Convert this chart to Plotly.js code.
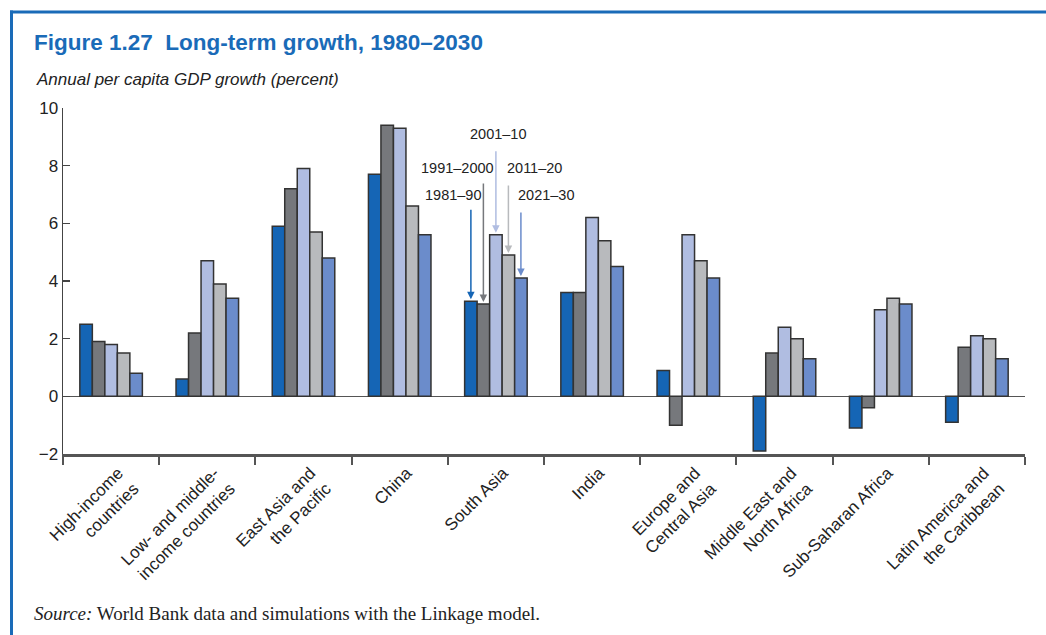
<!DOCTYPE html>
<html>
<head>
<meta charset="utf-8">
<script src="https://cdn.plot.ly/plotly-3.0.1.min.js"></script>
<style>
html,body{margin:0;padding:0;background:#fff;}
#chart{width:1046px;height:635px;}
</style>
</head>
<body>
<div id="chart"></div>
<script>
var categories = [
  "High-income<br>countries",
  "Low- and middle-<br>income countries",
  "East Asia and<br>the Pacific",
  "China",
  "South Asia",
  "India",
  "Europe and<br>Central Asia",
  "Middle East and<br>North Africa",
  "Sub-Saharan Africa",
  "Latin America and<br>the Caribbean"
];
var seriesNames = ["1981\u201390", "1991\u20132000", "2001\u201310", "2011\u201320", "2021\u201330"];
var v1981_90   = [2.5, 0.6, 5.9, 7.7, 3.3, 3.6, 0.9, -1.9, -1.1, -0.9];
var v1991_2000 = [1.9, 2.2, 7.2, 9.4, 3.2, 3.6, -1.0, 1.5, -0.4, 1.7];
var v2001_10   = [1.8, 4.7, 7.9, 9.3, 5.6, 6.2, 5.6, 2.4, 3.0, 2.1];
var v2011_20   = [1.5, 3.9, 5.7, 6.6, 4.9, 5.4, 4.7, 2.0, 3.4, 2.0];
var v2021_30   = [0.8, 3.4, 4.8, 5.6, 4.1, 4.5, 4.1, 1.3, 3.2, 1.3];
var seriesValues = [v1981_90, v1991_2000, v2001_10, v2011_20, v2021_30];
var colors = ["#1565b5", "#76787c", "#b0bde1", "#b8babd", "#6b8ccb"];

var traces = seriesNames.map(function(name, i){
  return {
    type: "bar",
    name: name,
    x: categories,
    y: seriesValues[i],
    marker: {color: colors[i], line: {color: "#333333", width: 1.5}},
    hoverinfo: "skip"
  };
});

// arrow callouts on the South Asia group
var calloutCat = 4;
var bargap = 0.35;
var barW = (1 - bargap) / 5;
var tailY = [-93, -122, -85, -71, -67];   // arrow lengths (px)
var labelPos = [[453,195],[457,168],[498,134],[534,168],[546,195]];
var annotations = [];
seriesNames.forEach(function(name, i){
  var xoff = calloutCat + (i - 2) * barW;
  annotations.push({
    xref: "x", yref: "y", x: xoff, y: seriesValues[i][calloutCat],
    text: "", showarrow: true, arrowhead: 2, arrowsize: 1, arrowwidth: 1.5,
    arrowcolor: colors[i], ax: 0, ay: tailY[i], standoff: 2
  });
  annotations.push({
    xref: "paper", yref: "paper",
    x: (labelPos[i][0] - 63) / 962, y: 1 - (labelPos[i][1] - 108) / 346,
    xanchor: "center", yanchor: "middle", showarrow: false,
    text: name, font: {family: "Liberation Sans, Arial", size: 14.5, color: "#222"}
  });
});
annotations.push({
  xref: "paper", yref: "paper", x: (34 - 63) / 962, y: 1 - (80 - 108) / 346,
  xanchor: "left", yanchor: "middle", showarrow: false,
  text: "<i>Annual per capita GDP growth (percent)</i>",
  font: {family: "Liberation Sans, Arial", size: 17, color: "#222"}
});
annotations.push({
  xref: "paper", yref: "paper", x: (32 - 63) / 962, y: 1 - (613 - 108) / 346,
  xanchor: "left", yanchor: "middle", showarrow: false,
  text: "<i>Source:</i> World Bank data and simulations with the Linkage model.",
  font: {family: "Liberation Serif, Times New Roman, serif", size: 19, color: "#222"}
});

var layout = {
  width: 1046, height: 635,
  margin: {l: 63, r: 21, t: 108, b: 181, pad: 0},
  paper_bgcolor: "#ffffff", plot_bgcolor: "#ffffff",
  showlegend: false,
  barmode: "group", bargap: bargap, bargroupgap: 0,
  title: {
    text: "<b>Figure 1.27\u00a0 Long-term growth, 1980\u20132030</b>",
    xref: "container", yref: "container",
    x: 34 / 1046, xanchor: "left", y: 1 - 42 / 635, yanchor: "middle",
    font: {family: "Liberation Sans, Arial", size: 22.5, color: "#1a6bb8"}
  },
  font: {family: "Liberation Sans, Arial", size: 17, color: "#222"},
  xaxis: {
    type: "category",
    tickangle: -45,
    tickson: "boundaries",
    ticks: "outside", ticklen: 8, tickwidth: 2, tickcolor: "#555",
    ticklabelshift: 7,
    showline: true, linecolor: "#555", linewidth: 2.5,
    showgrid: false, zeroline: false,
    tickfont: {family: "Liberation Sans, Arial", size: 17, color: "#222"},
    range: [-0.5, 9.5], fixedrange: true
  },
  yaxis: {
    range: [-2, 10], dtick: 2, tick0: 0,
    ticks: "inside", ticklen: 7, tickwidth: 1.5, tickcolor: "#444",
    showline: true, linecolor: "#444", linewidth: 1.5,
    showgrid: false,
    zeroline: true, zerolinecolor: "#555", zerolinewidth: 1.5,
    tickfont: {family: "Liberation Sans, Arial", size: 17, color: "#222"},
    fixedrange: true
  },
  annotations: annotations,
  shapes: [
    {type: "line", xref: "paper", yref: "paper",
     x0: (10 - 63) / 962, x1: (1046 - 63) / 962,
     y0: 1 - (12 - 108) / 346, y1: 1 - (12 - 108) / 346,
     line: {color: "#1a6bb8", width: 3}},
    {type: "line", xref: "paper", yref: "paper",
     x0: (11.5 - 63) / 962, x1: (11.5 - 63) / 962,
     y0: 1 - (10.5 - 108) / 346, y1: 1 - (640 - 108) / 346,
     line: {color: "#1a6bb8", width: 3}}
  ]
};

Plotly.newPlot("chart", traces, layout, {displayModeBar: false, staticPlot: true});
</script>
</body>
</html>
